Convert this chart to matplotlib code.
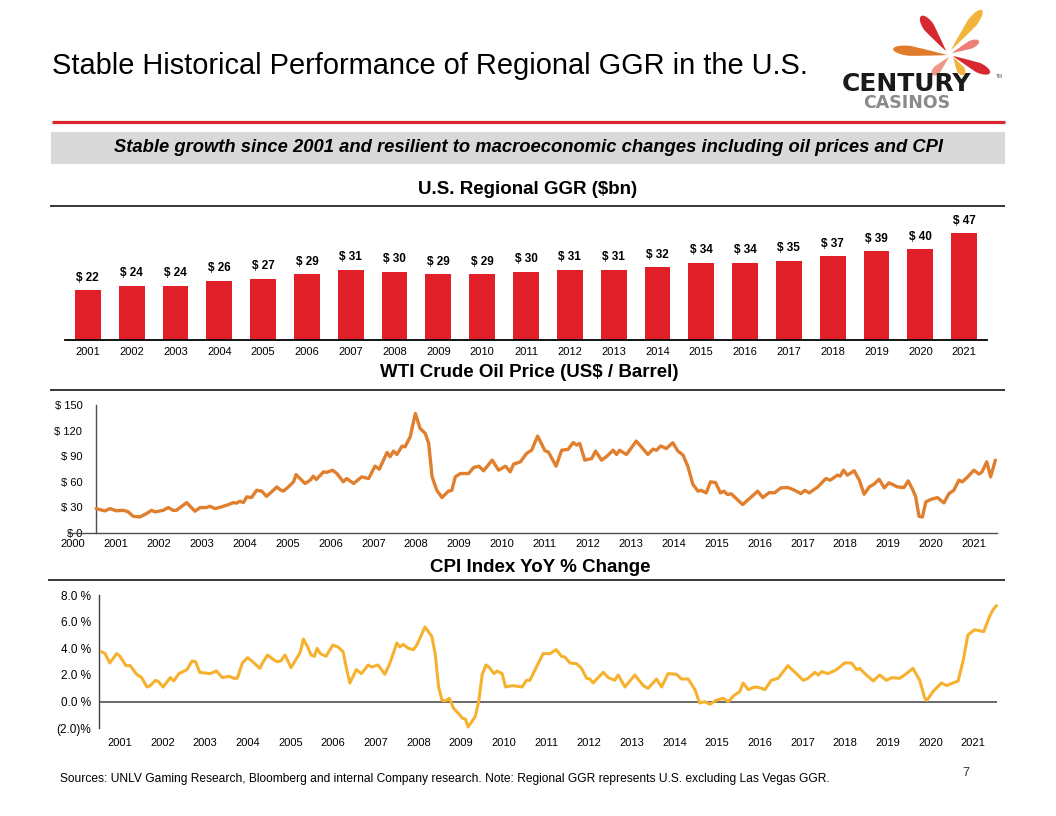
import matplotlib
matplotlib.use('Agg')
import matplotlib.pyplot as plt
from matplotlib.patches import Rectangle, Polygon
from matplotlib.lines import Line2D
import numpy as np

plt.rcParams['font.family'] = ['Liberation Sans', 'DejaVu Sans']

W, H = 1056, 816

# ---------------- data ----------------
ggr_years = ['2001', '2002', '2003', '2004', '2005', '2006', '2007', '2008', '2009', '2010',
             '2011', '2012', '2013', '2014', '2015', '2016', '2017', '2018', '2019', '2020', '2021']
ggr_values = [22, 24, 24, 26, 27, 29, 31, 30, 29, 29, 30, 31, 31, 32, 34, 34, 35, 37, 39, 40, 47]

oil_time = [2000.54, 2000.74, 2000.86, 2001.01, 2001.17, 2001.28, 2001.40, 2001.56, 2001.71, 2001.83,
            2001.91, 2002.10, 2002.22, 2002.33, 2002.41, 2002.57, 2002.65, 2002.84, 2002.96, 2003.11,
            2003.19, 2003.31, 2003.46, 2003.62, 2003.74, 2003.81, 2003.89, 2003.97, 2004.05, 2004.16,
            2004.28, 2004.40, 2004.51, 2004.67, 2004.75, 2004.82, 2004.90, 2005.02, 2005.14, 2005.20,
            2005.29, 2005.41, 2005.53, 2005.60, 2005.67, 2005.84, 2005.91, 2006.05, 2006.15, 2006.30,
            2006.38, 2006.54, 2006.73, 2006.89, 2007.04, 2007.14, 2007.32, 2007.39, 2007.47, 2007.55,
            2007.67, 2007.74, 2007.86, 2007.98, 2008.09, 2008.21, 2008.29, 2008.37, 2008.48, 2008.60,
            2008.75, 2008.83, 2008.91, 2009.03, 2009.22, 2009.34, 2009.46, 2009.57, 2009.77, 2009.92,
            2010.08, 2010.19, 2010.27, 2010.43, 2010.57, 2010.69, 2010.83, 2011.00, 2011.08, 2011.26,
            2011.39, 2011.54, 2011.66, 2011.74, 2011.81, 2011.93, 2012.09, 2012.18, 2012.32, 2012.43,
            2012.59, 2012.67, 2012.74, 2012.90, 2013.13, 2013.40, 2013.52, 2013.60, 2013.70, 2013.83,
            2013.98, 2014.10, 2014.22, 2014.33, 2014.45, 2014.57, 2014.64, 2014.76, 2014.86, 2014.98,
            2015.09, 2015.17, 2015.26, 2015.34, 2015.61, 2015.81, 2015.96, 2016.08, 2016.23, 2016.35,
            2016.50, 2016.66, 2016.78, 2016.97, 2017.06, 2017.16, 2017.36, 2017.55, 2017.65, 2017.82,
            2017.88, 2017.96, 2018.05, 2018.21, 2018.33, 2018.44, 2018.56, 2018.67, 2018.79, 2018.91,
            2019.02, 2019.22, 2019.37, 2019.47, 2019.57, 2019.64, 2019.72, 2019.80, 2019.88, 2019.99,
            2020.15, 2020.30, 2020.42, 2020.53, 2020.65, 2020.73, 2020.84, 2021.00, 2021.12, 2021.19,
            2021.30, 2021.39, 2021.50]
oil_price = [28.6, 25.9, 28.6, 26.0, 26.6, 25.0, 19.6, 18.8, 22.7, 26.6,
             24.7, 26.6, 29.8, 26.6, 26.6, 32.5, 35.6, 25.5, 29.8, 29.8,
             31.3, 28.6, 30.6, 33.3, 35.6, 35.0, 37.2, 35.6, 42.3, 41.5,
             50.1, 49.0, 43.0, 50.1, 54.0, 51.0, 49.0, 54.0, 60.0, 68.5,
             63.8, 58.0, 62.0, 66.6, 62.7, 71.7, 71.0, 73.6, 69.7, 60.0,
             63.8, 58.0, 65.8, 63.8, 78.3, 74.8, 94.4, 89.3, 96.0, 92.0,
             101.8, 101.0, 112.8, 140.0, 122.6, 116.7, 105.0, 65.8, 50.0, 41.5,
             49.0, 50.0, 65.8, 69.7, 69.7, 76.8, 78.3, 72.9, 85.4, 73.6,
             78.3, 71.7, 80.7, 83.4, 93.2, 97.0, 113.6, 96.4, 95.0, 78.3,
             97.0, 98.0, 106.0, 103.0, 105.0, 85.4, 87.3, 96.0, 85.4, 89.3,
             97.0, 92.0, 97.0, 92.0, 107.7, 92.0, 98.3, 97.0, 102.0, 99.0,
             105.8, 96.0, 91.3, 78.3, 56.8, 49.0, 50.0, 47.0, 60.0, 59.0,
             47.0, 49.0, 45.0, 46.0, 33.3, 42.3, 49.0, 41.5, 47.4, 47.0,
             52.9, 53.3, 51.0, 46.2, 50.0, 47.0, 54.0, 63.8, 61.9, 67.8,
             66.6, 73.6, 67.8, 72.9, 61.9, 45.4, 54.0, 57.2, 63.0, 52.9,
             58.8, 54.0, 53.3, 61.1, 51.0, 43.0, 19.6, 18.8, 36.4, 39.2,
             41.5, 35.3, 46.2, 50.0, 61.9, 60.0, 65.0, 73.6, 69.0, 71.7,
             83.4, 65.8, 85.4]

cpi_time = [2000.57, 2000.65, 2000.76, 2000.92, 2001.00, 2001.14, 2001.24, 2001.31, 2001.39, 2001.51,
            2001.63, 2001.71, 2001.83, 2001.90, 2002.01, 2002.18, 2002.26, 2002.38, 2002.57, 2002.69,
            2002.77, 2002.87, 2003.12, 2003.26, 2003.40, 2003.56, 2003.67, 2003.75, 2003.87, 2003.99,
            2004.11, 2004.28, 2004.34, 2004.46, 2004.62, 2004.69, 2004.77, 2004.87, 2005.01, 2005.17,
            2005.23, 2005.30, 2005.40, 2005.48, 2005.56, 2005.62, 2005.70, 2005.83, 2005.99, 2006.11,
            2006.23, 2006.31, 2006.39, 2006.54, 2006.66, 2006.82, 2006.90, 2007.05, 2007.21, 2007.33,
            2007.49, 2007.56, 2007.64, 2007.76, 2007.88, 2007.96, 2008.15, 2008.31, 2008.39, 2008.47,
            2008.55, 2008.63, 2008.72, 2008.82, 2008.94, 2009.03, 2009.10, 2009.16, 2009.25, 2009.33,
            2009.41, 2009.49, 2009.58, 2009.65, 2009.77, 2009.84, 2009.96, 2010.04, 2010.20, 2010.43,
            2010.53, 2010.61, 2010.92, 2011.08, 2011.23, 2011.35, 2011.43, 2011.55, 2011.70, 2011.82,
            2011.94, 2012.02, 2012.09, 2012.33, 2012.45, 2012.60, 2012.68, 2012.84, 2013.07, 2013.27,
            2013.38, 2013.58, 2013.70, 2013.85, 2014.05, 2014.16, 2014.32, 2014.48, 2014.59, 2014.71,
            2014.83, 2014.98, 2015.14, 2015.26, 2015.41, 2015.53, 2015.61, 2015.73, 2015.88, 2016.00,
            2016.12, 2016.27, 2016.43, 2016.66, 2016.86, 2017.02, 2017.13, 2017.29, 2017.37, 2017.45,
            2017.60, 2017.80, 2017.99, 2018.15, 2018.27, 2018.34, 2018.50, 2018.66, 2018.81, 2018.97,
            2019.09, 2019.28, 2019.44, 2019.59, 2019.75, 2019.87, 2019.92, 2020.06, 2020.26, 2020.38,
            2020.53, 2020.65, 2020.77, 2020.88, 2021.04, 2021.25, 2021.39, 2021.47, 2021.55]
cpi_change = [3.75, 3.6, 2.9, 3.6, 3.4, 2.7, 2.7, 2.4, 2.05, 1.8,
              1.1, 1.2, 1.6, 1.5, 1.1, 1.8, 1.55, 2.1, 2.4, 3.05,
              3.0, 2.2, 2.1, 2.3, 1.8, 1.9, 1.75, 1.75, 2.9, 3.3,
              3.0, 2.5, 2.9, 3.5, 3.1, 3.0, 3.05, 3.5, 2.55, 3.4,
              3.75, 4.7, 4.1, 3.5, 3.4, 4.0, 3.6, 3.4, 4.25, 4.1,
              3.75, 2.5, 1.4, 2.4, 2.1, 2.75, 2.6, 2.75, 2.05, 2.9,
              4.4, 4.1, 4.3, 4.0, 3.9, 4.25, 5.6, 4.9, 3.6, 1.1,
              0.1, 0.05, 0.25, -0.5, -0.9, -1.25, -1.3, -1.9, -1.5, -1.1,
              0.0, 2.0, 2.75, 2.6, 2.1, 2.3, 2.1, 1.1, 1.2, 1.1,
              1.6, 1.6, 3.6, 3.6, 3.9, 3.4, 3.35, 2.9, 2.85, 2.5,
              1.75, 1.7, 1.4, 2.2, 1.8, 1.6, 2.0, 1.1, 2.0, 1.2,
              1.0, 1.7, 1.1, 2.1, 2.05, 1.7, 1.7, 0.9, -0.1, 0.0,
              -0.2, 0.1, 0.25, 0.0, 0.5, 0.75, 1.4, 0.9, 1.1, 1.05,
              0.9, 1.6, 1.75, 2.7, 2.1, 1.6, 1.75, 2.2, 2.0, 2.25,
              2.1, 2.4, 2.9, 2.9, 2.4, 2.5, 2.0, 1.55, 2.0, 1.6,
              1.8, 1.75, 2.1, 2.5, 1.6, 0.25, 0.1, 0.75, 1.4, 1.2,
              1.4, 1.55, 3.1, 5.0, 5.4, 5.25, 6.4, 6.9, 7.2]

oil_xticks = list(range(2000, 2022))
oil_xlabels = [str(y) for y in oil_xticks]
oil_yticks = [0, 30, 60, 90, 120, 150]
oil_ylabels = ['$ 0', '$ 30', '$ 60', '$ 90', '$ 120', '$ 150']

cpi_xticks = list(range(2001, 2022))
cpi_xlabels = [str(y) for y in cpi_xticks]
cpi_yticks = [-2, 0, 2, 4, 6, 8]
cpi_ylabels = ['(2.0)%', '0.0 %', '2.0 %', '4.0 %', '6.0 %', '8.0 %']

title = 'Stable Historical Performance of Regional GGR in the U.S.'
subtitle = 'Stable growth since 2001 and resilient to macroeconomic changes including oil prices and CPI'
footnote = ('Sources: UNLV Gaming Research, Bloomberg and internal Company research. '
            'Note: Regional GGR represents U.S. excluding Las Vegas GGR.')

# ---------------- figure ----------------
fig = plt.figure(figsize=(W / 100, H / 100), dpi=100)
fig.patch.set_facecolor('white')


def fx(x):
    return x / W


def fy(y):
    return 1 - y / H


def px_axes(x0, y0, x1, y1):
    return fig.add_axes([fx(x0), fy(y1), (x1 - x0) / W, (y1 - y0) / H])


def hline(x0, x1, y, color, lw):
    fig.add_artist(Line2D([fx(x0), fx(x1)], [fy(y), fy(y)], color=color, lw=lw,
                          transform=fig.transFigure, solid_capstyle='butt'))


# title
fig.text(fx(52), fy(66), title, fontsize=20.9, color='black', ha='left', va='center')
hline(52, 1005, 122, '#D9262E', 2.3)
fig.add_artist(Rectangle((fx(51), fy(163.5)), fx(1005) - fx(51), (163.5 - 131.5) / H,
                         transform=fig.transFigure, facecolor='#D9D9D9', edgecolor='none'))
fig.text(fx(529), fy(147.5), subtitle, fontsize=13.2, fontweight='bold', fontstyle='italic',
         ha='center', va='center', color='black')

# section headers
fig.text(fx(528), fy(189), 'U.S. Regional GGR ($bn)', fontsize=13.5, fontweight='bold',
         ha='center', va='center')
hline(50, 1005, 205.5, 'black', 1.1)
fig.text(fx(529), fy(373), 'WTI Crude Oil Price (US$ / Barrel)', fontsize=13.5, fontweight='bold',
         ha='center', va='center')
hline(50, 1005, 390, 'black', 1.1)
fig.text(fx(540), fy(568), 'CPI Index YoY % Change', fontsize=13.5, fontweight='bold',
         ha='center', va='center')
hline(48, 1005, 579.5, 'black', 1.1)

# ---------------- bar chart ----------------
axb = px_axes(65, 208, 987, 340)
xpos = np.arange(len(ggr_values))
axb.bar(xpos, ggr_values, width=0.59, color='#E11F28', edgecolor='none', zorder=2)
for xi, v in zip(xpos, ggr_values):
    axb.annotate(f'$ {v}', (xi, v), xytext=(0, 9), textcoords='offset points',
                 ha='center', va='center', fontsize=8.5, fontweight='bold', color='black')
axb.set_xlim(-0.52, 20.52)
axb.set_ylim(0, (340 - 208) / 2.27)
axb.set_xticks(xpos)
axb.set_xticklabels(ggr_years, fontsize=8)
axb.set_yticks([])
axb.tick_params(axis='x', length=0, pad=5)
for s in ['top', 'right', 'left']:
    axb.spines[s].set_visible(False)
axb.spines['bottom'].set_color('black')
axb.spines['bottom'].set_linewidth(1.3)
axb.patch.set_alpha(0)

# ---------------- oil chart ----------------
axo = px_axes(67.9, 405, 997.5, 533)
for s in ['top', 'right']:
    axo.spines[s].set_visible(False)
axo.spines['left'].set_position(('data', 2000.54))
for s in ['left', 'bottom']:
    axo.spines[s].set_color('#4D4D4D')
    axo.spines[s].set_linewidth(1.0)
axo.plot(oil_time, oil_price, color='#E07F2E', lw=2.4, solid_joinstyle='round',
         solid_capstyle='round', clip_on=False, zorder=3)
axo.set_xlim(1999.88, 2021.55)
axo.set_ylim(0, 150)
axo.set_xticks(oil_xticks)
axo.set_xticklabels(oil_xlabels)
axo.set_yticks(oil_yticks)
axo.set_yticklabels(oil_ylabels)
axo.tick_params(axis='both', length=0, labelsize=8)
axo.tick_params(axis='x', pad=4)
axo.tick_params(axis='y', pad=10)
axo.patch.set_alpha(0)

# ---------------- CPI chart ----------------
axc = px_axes(99.1, 595, 996.9, 728.3)
axc.axhline(0, color='#404040', lw=1.1, zorder=2)
axc.plot(cpi_time, cpi_change, color='#F6B12F', lw=2.2, solid_joinstyle='round',
         solid_capstyle='round', clip_on=False, zorder=3)
axc.set_xlim(2000.51, 2021.56)
axc.set_ylim(-2, 8)
axc.set_xticks(cpi_xticks)
axc.set_xticklabels(cpi_xlabels, fontsize=8)
axc.set_yticks(cpi_yticks)
axc.set_yticklabels(cpi_ylabels, fontsize=8.5)
axc.tick_params(axis='both', length=0)
axc.tick_params(axis='x', pad=7)
axc.tick_params(axis='y', pad=6)
for s in ['top', 'right', 'bottom']:
    axc.spines[s].set_visible(False)
axc.spines['left'].set_color('#404040')
axc.spines['left'].set_linewidth(1.0)
axc.patch.set_alpha(0)

# ---------------- footer ----------------
fig.text(fx(60), fy(779), footnote, fontsize=8.65, ha='left', va='center', color='black')
fig.text(fx(966), fy(773), '7', fontsize=9, ha='center', va='center', color='#333333')

# ---------------- logo ----------------
def petal(tip, end, width, color):
    tip = np.array(tip, float)
    end = np.array(end, float)
    d = end - tip
    L = np.hypot(*d)
    u = d / L
    n = np.array([-u[1], u[0]])
    c = 0.68
    t = np.linspace(0, 1, 60)
    half = np.where(t < c, (width / 2) * (t / c) ** 0.9,
                    (width / 2) * np.sqrt(np.clip(1 - ((t - c) / (1 - c)) ** 2, 0, 1)))
    left = tip + np.outer(t * L, u) + np.outer(half, n)
    right = tip + np.outer(t * L, u) - np.outer(half, n)
    pts = np.vstack([left, right[::-1]])
    pts_fig = np.column_stack([pts[:, 0] / W, 1 - pts[:, 1] / H])
    fig.add_artist(Polygon(pts_fig, closed=True, transform=fig.transFigure,
                           facecolor=color, edgecolor='none'))


petal((946, 51), (921, 16), 11, '#D7282F')
petal((951, 50), (982, 10), 10, '#F2B43A')
petal((947, 55), (893, 49), 10, '#E07B2A')
petal((952, 53), (979, 41), 8, '#EE7F76')
petal((953, 56), (990, 73), 10, '#D7282F')
petal((949, 57), (932, 75), 8, '#F0998A')
petal((953, 57), (964, 75), 8, '#F2B43A')

fig.text(fx(907), fy(84), 'CENTURY', fontsize=18, fontweight='bold', family='DejaVu Sans',
         ha='center', va='center', color='#1A1A1A')
fig.text(fx(996), fy(76), 'TM', fontsize=3.5, ha='left', va='center', color='#555555')
fig.text(fx(907), fy(103.5), 'CASINOS', fontsize=12.5, fontweight='bold', family='DejaVu Sans',
         ha='center', va='center', color='#8A8A8A')

fig.savefig('out.png', dpi=100, facecolor='white')
